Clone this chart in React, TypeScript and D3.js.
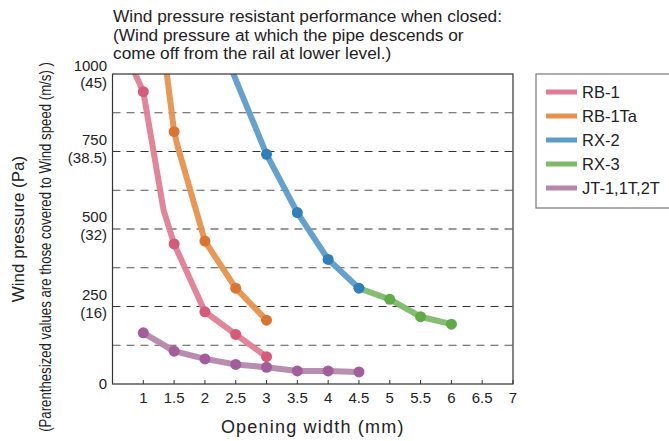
import React from 'react';
import * as d3 from 'd3';

interface Pt { x: number; y: number; m: boolean }

const seriesNames = ['RB-1', 'RB-1Ta', 'RX-2', 'RX-3', 'JT-1,1T,2T'];
const lineColors = ['#e07d95', '#e8914c', '#5c9cc9', '#7dba6a', '#b388ac'];
const dotColors = ['#d65a7a', '#dc7331', '#2f7fb8', '#63aa46', '#a35d9a'];

// m = marker drawn at the point
const rb1: Pt[] = [
  { x: 0.8, y: 1030, m: false }, { x: 1, y: 943, m: true }, { x: 1.33, y: 560, m: false },
  { x: 1.5, y: 452, m: true }, { x: 2, y: 233, m: true }, { x: 2.5, y: 160, m: true }, { x: 3, y: 88, m: true },
];
const rb1ta: Pt[] = [
  { x: 1.35, y: 1050, m: false }, { x: 1.5, y: 814, m: true }, { x: 1.56, y: 765, m: false },
  { x: 2, y: 461, m: true }, { x: 2.5, y: 309, m: true }, { x: 3, y: 206, m: true },
];
const rx2: Pt[] = [
  { x: 2.4, y: 1030, m: false }, { x: 3, y: 741, m: true }, { x: 3.5, y: 553, m: true },
  { x: 4, y: 402, m: true }, { x: 4.5, y: 309, m: true },
];
const rx3: Pt[] = [
  { x: 4.5, y: 309, m: false }, { x: 5, y: 273, m: true }, { x: 5.5, y: 217, m: true }, { x: 6, y: 193, m: true },
];
const jt: Pt[] = [
  { x: 1, y: 165, m: true }, { x: 1.5, y: 106, m: true }, { x: 2, y: 81, m: true }, { x: 2.5, y: 63, m: true },
  { x: 3, y: 54, m: true }, { x: 3.5, y: 42, m: true }, { x: 4, y: 42, m: true }, { x: 4.5, y: 39, m: true },
];
const allSeries = [rb1, rb1ta, rx2, rx3, jt];
const drawOrder = [0, 1, 3, 2, 4];

const xTicks = [1, 1.5, 2, 2.5, 3, 3.5, 4, 4.5, 5, 5.5, 6, 6.5, 7];
const gridValues = [125, 250, 375, 500, 625, 750, 875];
const yTickValues = [0, 250, 500, 750, 1000];
const yTickLabels = ['0', '250', '500', '750', '1000'];
const yTickSub = ['', '(16)', '(32)', '(38.5)', '(45)'];

const titleLines = [
  'Wind pressure resistant performance when closed:',
  '(Wind pressure at which the pipe descends or',
  'come off from the rail at lower level.)',
];

const W = 669;
const H = 441;
const margin = { top: 74, right: 156, bottom: 57, left: 112.5 };
const font = '"Liberation Sans", Arial, sans-serif';

export default function App() {
  const x = d3.scaleLinear().domain([0.5, 7]).range([margin.left, W - margin.right]);
  const y = d3.scaleLinear().domain([0, 1000]).range([H - margin.bottom, margin.top]);
  const line = d3.line<Pt>().x(d => x(d.x)).y(d => y(d.y));
  const x0 = x(0.5), x1 = x(7), y0 = y(0), y1 = y(1000);

  return (
    <svg width={W} height={H} style={{ position: 'absolute', left: 0, top: 0 }} fontFamily={font}>
      <defs>
        <clipPath id="plot">
          <rect x={x0} y={y1} width={x1 - x0} height={y0 - y1} />
        </clipPath>
      </defs>
      {titleLines.map((t, i) => (
        <text key={i} x={113} y={22 + i * 18.5} fontSize={17.3} fill="#222">{t}</text>
      ))}

      {gridValues.map(v => (
        <line key={v} x1={x0} x2={x1} y1={y(v)} y2={y(v)} stroke={v % 250 === 0 ? '#333' : '#555'}
          strokeWidth={1} strokeDasharray="8,6" />
      ))}

      <g clipPath="url(#plot)">
        {drawOrder.map(i => (
          <path key={i} d={line(allSeries[i]) || ''} fill="none" stroke={lineColors[i]} strokeWidth={6}
            strokeLinejoin="round" strokeLinecap="round" opacity={0.95} />
        ))}
      </g>
      {drawOrder.map(i => (
        <g key={i}>
          {allSeries[i].filter(d => d.m).map((d, j) => (
            <circle key={j} cx={x(d.x)} cy={y(d.y)} r={5.5} fill={dotColors[i]} />
          ))}
        </g>
      ))}

      <rect x={x0} y={y1} width={x1 - x0} height={y0 - y1} fill="none" stroke="#333" strokeWidth={1.2} />
      {xTicks.map(t => (
        <g key={t}>
          <line x1={x(t)} x2={x(t)} y1={y0} y2={y0 - 4} stroke="#333" />
          <text x={x(t)} y={y0 + 19} fontSize={15} textAnchor="middle" fill="#222">{t}</text>
        </g>
      ))}
      {yTickValues.map((v, i) => (
        <g key={v}>
          <text x={107} y={y(v) + (v === 0 ? 5 : v === 1000 ? -3 : -7)} fontSize={15} textAnchor="end" fill="#222">
            {yTickLabels[i]}
          </text>
          {yTickSub[i] && (
            <text x={107} y={y(v) + (v === 1000 ? 14 : 11)} fontSize={15} textAnchor="end" fill="#222">
              {yTickSub[i]}
            </text>
          )}
        </g>
      ))}

      <text x={(x0 + x1) / 2} y={433} fontSize={18} letterSpacing={1.2} textAnchor="middle" fill="#222">
        Opening width (mm)
      </text>
      <text transform={`translate(24,229) rotate(-90)`} fontSize={17} textAnchor="middle" fill="#222">
        Wind pressure (Pa)
      </text>
      <text transform={`translate(51,247) rotate(-90) scale(0.8,1)`} fontSize={16.5} textAnchor="middle"
        fill="#222">
        (Parenthesized values are those covered to Wind speed (m/s) )
      </text>

      <rect x={536} y={74} width={150} height={134} fill="#fff" stroke="#777" strokeWidth={1.2} />
      {seriesNames.map((n, i) => (
        <g key={n} transform={`translate(546,${92 + i * 24})`}>
          <line x1={0} x2={31} y1={0} y2={0} stroke={lineColors[i]} strokeWidth={5} />
          <text x={36} y={6} fontSize={16.5} fill="#222">{n}</text>
        </g>
      ))}
    </svg>
  );
}
